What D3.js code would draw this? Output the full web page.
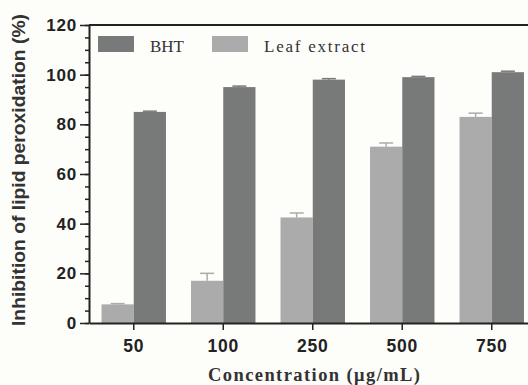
<!DOCTYPE html>
<html>
<head>
<meta charset="utf-8">
<script src="https://cdn.jsdelivr.net/npm/d3@7"></script>
<style>
    body { margin: 0; background: #fdfdfa; }
    svg { display: block; }
</style>
</head>
<body>
<svg id="chart" width="528" height="385"></svg>
<script>
// data
var concentrations = ["50", "100", "250", "500", "750"]
var seriesNames = ["Leaf extract", "BHT"]
var leafValues = [7.5, 17, 42.5, 71, 83]
var leafErrors = [0.3, 3, 1.8, 1.5, 1.5]
var bhtValues = [85, 95, 98, 99, 101]
var bhtErrors = [0.3, 0.4, 0.4, 0.3, 0.4]
var yTicks = [0, 20, 40, 60, 80, 100, 120]

var colors = {"Leaf extract": "#ababab", "BHT": "#787a79"}

var svg = d3.select("#chart")
var mLeft = 89, mTop = 25, mBottom = 323
var step = 89.5

var x = d3.scaleBand()
    .domain(concentrations)
    .range([mLeft, mLeft + step * concentrations.length])
    .paddingInner(0.28)
    .paddingOuter(0.14)

var xs = d3.scaleBand()
    .domain(seriesNames)
    .range([0, x.bandwidth()])

var y = d3.scaleLinear()
    .domain([0, 120])
    .range([mBottom, mTop])

var rows = concentrations.map(function(c, i)
{
    return [
        {cat: c, name: "Leaf extract", value: leafValues[i], err: leafErrors[i]},
        {cat: c, name: "BHT", value: bhtValues[i], err: bhtErrors[i]}
    ]
})
var flat = d3.merge(rows)

function barCenter(d)
{
    return x(d.cat) + xs(d.name) + xs.bandwidth() / 2
}

// error bars (upper only) drawn before the bars
var errs = svg.append("g")
errs.selectAll("line.v")
    .data(flat)
    .enter()
    .append("line")
    .attr("x1", barCenter)
    .attr("x2", barCenter)
    .attr("y1", function(d){ return y(d.value) })
    .attr("y2", function(d){ return y(d.value + d.err) })
    .attr("stroke", function(d){ return colors[d.name] })
    .attr("stroke-width", 1.5)
errs.selectAll("line.cap")
    .data(flat)
    .enter()
    .append("line")
    .attr("x1", function(d){ return barCenter(d) - 7 })
    .attr("x2", function(d){ return barCenter(d) + 7 })
    .attr("y1", function(d){ return y(d.value + d.err) })
    .attr("y2", function(d){ return y(d.value + d.err) })
    .attr("stroke", function(d){ return colors[d.name] })
    .attr("stroke-width", 1.5)

svg.append("g")
    .selectAll("rect")
    .data(flat)
    .enter()
    .append("rect")
    .attr("x", function(d){ return x(d.cat) + xs(d.name) })
    .attr("width", xs.bandwidth())
    .attr("y", function(d){ return y(d.value) })
    .attr("height", function(d){ return mBottom - y(d.value) })
    .attr("fill", function(d){ return colors[d.name] })

// top frame line
svg.append("line")
    .attr("x1", mLeft).attr("x2", 528)
    .attr("y1", mTop).attr("y2", mTop)
    .attr("stroke", "#222").attr("stroke-width", 2)

// y axis: minor then major ticks
svg.append("g")
    .attr("transform", "translate(" + mLeft + ",0)")
    .call(d3.axisLeft(y).tickValues(d3.range(0, 121, 5)).tickSize(4).tickFormat(""))
    .call(function(g){ g.select(".domain").remove() })
    .selectAll("line").attr("stroke", "#222").attr("stroke-width", 1.5)

var yAxis = svg.append("g")
    .attr("transform", "translate(" + mLeft + ",0)")
    .call(d3.axisLeft(y).tickValues(yTicks).tickSize(9).tickSizeOuter(0).tickPadding(3))
yAxis.select(".domain").attr("stroke", "#222").attr("stroke-width", 2)
yAxis.selectAll("line").attr("stroke", "#222").attr("stroke-width", 1.5)
yAxis.selectAll("text")
    .attr("font-family", "Liberation Sans, Arial, sans-serif")
    .attr("font-weight", "bold")
    .attr("font-size", 17)
    .attr("letter-spacing", 0.8)
    .attr("fill", "#222")

var xAxis = svg.append("g")
    .attr("transform", "translate(0," + mBottom + ")")
    .call(d3.axisBottom(x).tickSize(7).tickSizeOuter(0).tickPadding(10))
xAxis.select(".domain").attr("stroke", "#222").attr("stroke-width", 2)
xAxis.selectAll("line").attr("stroke", "#222").attr("stroke-width", 1.5)
xAxis.selectAll("text")
    .attr("font-family", "Liberation Sans, Arial, sans-serif")
    .attr("font-weight", "bold")
    .attr("font-size", 17.5)
    .attr("letter-spacing", 0.8)
    .attr("fill", "#222")

// axis titles
svg.append("text")
    .attr("transform", "translate(25,170) rotate(-90)")
    .attr("text-anchor", "middle")
    .attr("font-family", "Liberation Sans, Arial, sans-serif")
    .attr("font-weight", "bold")
    .attr("font-size", 18)
    .attr("textLength", 312)
    .attr("lengthAdjust", "spacingAndGlyphs")
    .attr("fill", "#333")
    .text("Inhibition of lipid peroxidation (%)")

svg.append("text")
    .attr("x", 314).attr("y", 381)
    .attr("text-anchor", "middle")
    .attr("font-family", "Liberation Serif, Times New Roman, serif")
    .attr("font-weight", "bold")
    .attr("font-size", 18.5)
    .attr("textLength", 212)
    .attr("lengthAdjust", "spacing")
    .attr("fill", "#333")
    .text("Concentration (\u03bcg/mL)")

// legend
var legendItems = [
    {name: "BHT", x: 98, len: 34},
    {name: "Leaf extract", x: 212, len: 101}
]
var legend = svg.append("g").selectAll("g")
    .data(legendItems)
    .enter()
    .append("g")
    .attr("transform", function(d){ return "translate(" + d.x + ",36)" })
legend.append("rect")
    .attr("width", 36).attr("height", 16)
    .attr("fill", function(d){ return colors[d.name] })
legend.append("text")
    .attr("x", 52).attr("y", 16)
    .attr("font-family", "Liberation Serif, Times New Roman, serif")
    .attr("font-size", 17)
    .attr("textLength", function(d){ return d.len })
    .attr("lengthAdjust", "spacing")
    .attr("fill", "#333")
    .text(function(d){ return d.name })
</script>
</body>
</html>
